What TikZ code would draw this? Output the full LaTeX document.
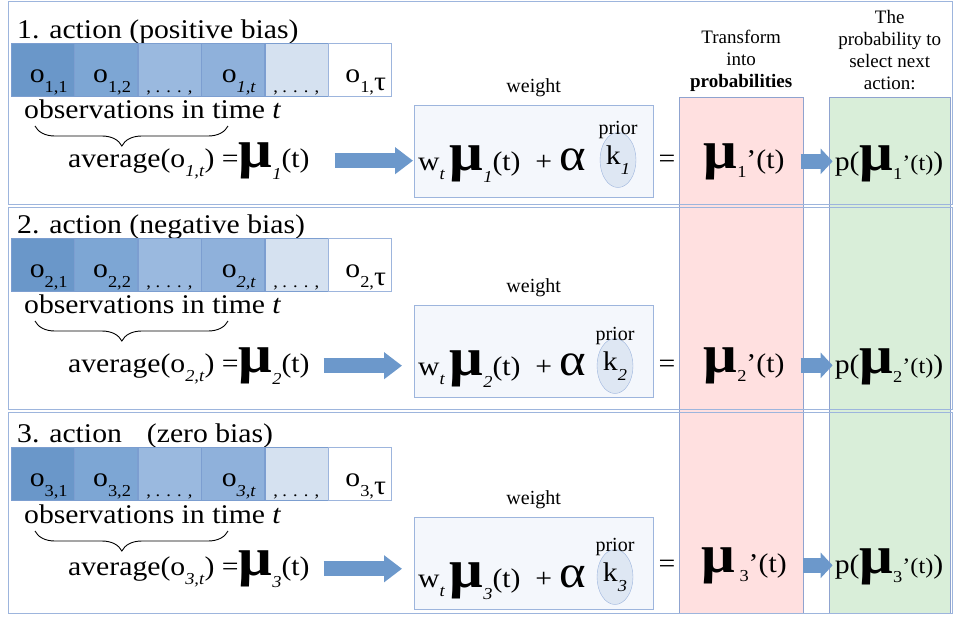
\documentclass[tikz,border=0pt]{standalone}
\usepackage{fontspec}
\setmainfont{Liberation Serif}
\newfontfamily\widefont{Liberation Serif}[FakeStretch=1.1]
\usepackage{xcolor}
\usetikzlibrary{shapes.geometric, arrows.meta, positioning, decorations.pathreplacing}
\definecolor{secline}{HTML}{9DB5DD}
\definecolor{celledge}{HTML}{7C9ED0}
\definecolor{cellA}{HTML}{6A97C9}
\definecolor{cellB}{HTML}{7DA6D4}
\definecolor{cellC}{HTML}{9AB9DF}
\definecolor{cellD}{HTML}{8FB1DB}
\definecolor{cellE}{HTML}{D5E1F0}
\definecolor{boxfill}{HTML}{F4F7FC}
\definecolor{ellfill}{HTML}{DEE7F3}
\definecolor{pinkfill}{HTML}{FFE0E0}
\definecolor{greenfill}{HTML}{D9EED9}
\definecolor{coledge}{HTML}{8FA3CF}
\definecolor{arrowblue}{HTML}{6C98CB}
\newcommand{\lowidx}[1]{\raisebox{-.35em}{\scalebox{.62}{#1}}}
\newcommand{\bigmu}{{\fontsize{54}{54}\selectfont\bfseries μ}}
\newcommand{\muidx}[1]{\bigmu\raisebox{-.45em}{\scalebox{.62}{#1}}}
\newcommand{\bigalpha}{{\fontsize{46}{46}\selectfont α}}
\tikzstyle{secframe} = [draw=secline, line width=0.8pt]
\tikzstyle{sectitle} = [inner sep=0pt, anchor=base west, font=\widefont\fontsize{27}{30}\selectfont]
\tikzstyle{obscell} = [rectangle, draw=celledge, 
minimum width=63pt, 
minimum height=53pt, 
inner sep=0pt, text height=30pt, text depth=4pt, 
font=\widefont\fontsize{27}{30}\selectfont]
\tikzstyle{plaintext} = [inner sep=0pt, font=\widefont\fontsize{27}{30}\selectfont]
\tikzstyle{smalltext} = [inner sep=0pt, font=\fontsize{20}{22}\selectfont]
\tikzstyle{headtext} = [inner sep=0pt, align=center, font=\fontsize{19}{22}\selectfont]
\tikzstyle{weightbox} = [rectangle, draw=secline, fill=boxfill, 
minimum width=239pt, 
minimum height=92pt, anchor=north west]
\tikzstyle{priorell} = [ellipse, draw=secline, fill=ellfill, 
minimum width=36pt, 
minimum height=55pt, inner sep=0pt, 
font=\widefont\fontsize{27}{30}\selectfont]
\tikzstyle{probcol} = [rectangle, draw=coledge, minimum height=516pt, anchor=north west]
\tikzstyle{bigarrow} = [line width=15pt, draw=arrowblue, -{Triangle[length=18pt, width=26pt]}]
\tikzstyle{smallarrow} = [line width=15pt, draw=arrowblue, -{Triangle[length=12pt, width=25pt]}]
\tikzstyle{bracedeco} = [decorate, decoration={brace, mirror, amplitude=20pt, aspect=0.45}, line width=0.9pt]

\begin{document}
\begin{tikzpicture}[x=1pt, y=-1pt, node distance=6pt]
        \useasboundingbox (0,0) rectangle (953,616);

        % --- Columns on the right ---
        \node (pinkcol) [probcol, fill=pinkfill, minimum width=124pt] at (679,97) {};
        \node (greencol) [probcol, fill=greenfill, minimum width=121pt] at (829,97) {};
        \node (transhead) [headtext, above=5pt of pinkcol] {Transform\\into\\\textbf{probabilities}};
        \node (probhead) [headtext, above=7pt of greencol] {The\\probability to\\select next\\action:};

        % --- Section frames ---
        \draw[secframe] (8,1) rectangle (952,204);
        \draw[secframe] (8,207) rectangle (952,409);
        \draw[secframe] (8,412) rectangle (952,613);

        % --- 1. action ---
        \node (title1) [sectitle] at (17,38) {1. action (positive bias)};
        \node (c11) [obscell, fill=cellA, anchor=north west] at (11,43) {\hspace*{12pt}o\lowidx{1,1}};
        \node (c12) [obscell, fill=cellB, right=0pt of c11] {\hspace*{12pt}o\lowidx{1,2}};
        \node (c13) [obscell, fill=cellC, right=0pt of c12] {\lowidx{, . . . ,}};
        \node (c14) [obscell, fill=cellD, right=0pt of c13] {\hspace*{12pt}o\lowidx{\textit{1,t}}};
        \node (c15) [obscell, fill=cellE, right=0pt of c14] {\lowidx{, . . . ,}};
        \node (c16) [obscell, fill=white, draw=secline, right=0pt of c15] {\hspace*{12pt}o\lowidx{1,}\raisebox{-.3em}{τ}};
        \node (obs1) [sectitle] at (24,118) {observations in time \textit{t}};
        \draw[bracedeco] (35,126) -- (228,126);
        \node (avg1) [plaintext, anchor=base west] at (68,167) {average(o\lowidx{\textit{1,t}}) =\muidx{\textit{1}}(t)};
        \node (wbox1) [weightbox] at (414,105) {};
        \node (weight1) [smalltext, above=8pt of wbox1] {weight};
        \node (form1) [plaintext, anchor=base west] at (418,170) {w\lowidx{\textit{t}}\,\muidx{\textit{1}}(t)\ \ +\ \bigalpha};
        \node (k1) [priorell] at (618,160) {k\lowidx{\textit{1}}};
        \node (prior1) [smalltext, above=-7pt of k1] {prior};
        \node (eq1) [plaintext, anchor=base] at (667,167) {=};
        \node (mup1) [plaintext, anchor=base] at (744,168) {\bigmu\lowidx{1}’(t)};
        \node (p1) [plaintext, anchor=base] at (889,170) {p(\bigmu\lowidx{1}{\fontsize{22}{22}\selectfont ’(t)})};
        \draw [bigarrow, shorten <=25pt, shorten >=1pt] (avg1.east) -- (avg1.east -| wbox1.west);
        \draw [smallarrow, shorten <=16pt, shorten >=2pt] (mup1.east) -- (mup1.east -| p1.west);

        % --- 2. action ---
        \node (title2) [sectitle] at (17,233) {2. action (negative bias)};
        \node (c21) [obscell, fill=cellA, anchor=north west] at (11,238) {\hspace*{12pt}o\lowidx{2,1}};
        \node (c22) [obscell, fill=cellB, right=0pt of c21] {\hspace*{12pt}o\lowidx{2,2}};
        \node (c23) [obscell, fill=cellC, right=0pt of c22] {\lowidx{, . . . ,}};
        \node (c24) [obscell, fill=cellD, right=0pt of c23] {\hspace*{12pt}o\lowidx{\textit{2,t}}};
        \node (c25) [obscell, fill=cellE, right=0pt of c24] {\lowidx{, . . . ,}};
        \node (c26) [obscell, fill=white, draw=secline, right=0pt of c25] {\hspace*{12pt}o\lowidx{2,}\raisebox{-.3em}{τ}};
        \node (obs2) [sectitle] at (24,313) {observations in time \textit{t}};
        \draw[bracedeco] (35,321) -- (228,321);
        \node (avg2) [plaintext, anchor=base west] at (68,372) {average(o\lowidx{\textit{2,t}}) =\muidx{\textit{2}}(t)};
        \node (wbox2) [weightbox] at (414,305) {};
        \node (weight2) [smalltext, above=8pt of wbox2] {weight};
        \node (form2) [plaintext, anchor=base west] at (418,375) {w\lowidx{\textit{t}}\,\muidx{\textit{2}}(t)\ \ +\ \bigalpha};
        \node (k2) [priorell] at (615,366) {k\lowidx{\textit{2}}};
        \node (prior2) [smalltext, above=-7pt of k2] {prior};
        \node (eq2) [plaintext, anchor=base] at (667,372) {=};
        \node (mup2) [plaintext, anchor=base] at (744,372) {\bigmu\lowidx{2}’(t)};
        \node (p2) [plaintext, anchor=base] at (889,373) {p(\bigmu\lowidx{2}{\fontsize{22}{22}\selectfont ’(t)})};
        \draw [bigarrow, shorten <=14pt, shorten >=12pt] (avg2.east) -- (avg2.east -| wbox2.west);
        \draw [smallarrow, shorten <=16pt, shorten >=2pt] (mup2.east) -- (mup2.east -| p2.west);

        % --- 3. action ---
        \node (title3) [sectitle] at (17,442) {3. action\hspace{25pt}(zero bias)};
        \node (c31) [obscell, fill=cellA, anchor=north west] at (11,447) {\hspace*{12pt}o\lowidx{3,1}};
        \node (c32) [obscell, fill=cellB, right=0pt of c31] {\hspace*{12pt}o\lowidx{3,2}};
        \node (c33) [obscell, fill=cellC, right=0pt of c32] {\lowidx{, . . . ,}};
        \node (c34) [obscell, fill=cellD, right=0pt of c33] {\hspace*{12pt}o\lowidx{\textit{3,t}}};
        \node (c35) [obscell, fill=cellE, right=0pt of c34] {\lowidx{, . . . ,}};
        \node (c36) [obscell, fill=white, draw=secline, right=0pt of c35] {\hspace*{12pt}o\lowidx{3,}\raisebox{-.3em}{τ}};
        \node (obs3) [sectitle] at (24,523) {observations in time \textit{t}};
        \draw[bracedeco] (35,531) -- (228,531);
        \node (avg3) [plaintext, anchor=base west] at (68,575) {average(o\lowidx{\textit{3,t}}) =\muidx{\textit{3}}(t)};
        \node (wbox3) [weightbox] at (414,517) {};
        \node (weight3) [smalltext, above=8pt of wbox3] {weight};
        \node (form3) [plaintext, anchor=base west] at (418,587) {w\lowidx{\textit{t}}\,\muidx{\textit{3}}(t)\ \ +\ \bigalpha};
        \node (k3) [priorell] at (615,577) {k\lowidx{\textit{3}}};
        \node (prior3) [smalltext, above=-7pt of k3] {prior};
        \node (eq3) [plaintext, anchor=base] at (667,572) {=};
        \node (mup3) [plaintext, anchor=base] at (744,572) {\bigmu\,\lowidx{3}’(t)};
        \node (p3) [plaintext, anchor=base] at (889,573) {p(\bigmu\lowidx{3}{\fontsize{22}{22}\selectfont ’(t)})};
        \draw [bigarrow, shorten <=14pt, shorten >=12pt] (avg3.east) -- (avg3.east -| wbox3.west);
        \draw [smallarrow, shorten <=16pt, shorten >=2pt] (mup3.east) -- (mup3.east -| p3.west);

    \end{tikzpicture}
\end{document}
